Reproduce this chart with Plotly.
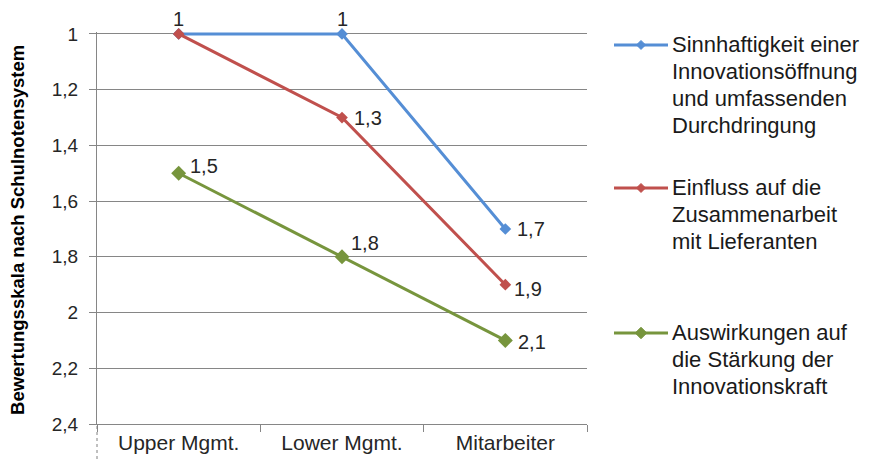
import plotly.graph_objects as go

# ---------------- data ----------------
categories = ["Upper Mgmt.", "Lower Mgmt.", "Mitarbeiter"]
series_names = [
    ["Sinnhaftigkeit einer", "Innovationsöffnung", "und umfassenden", "Durchdringung"],
    ["Einfluss auf die", "Zusammenarbeit", "mit Lieferanten"],
    ["Auswirkungen auf", "die Stärkung der", "Innovationskraft"],
]
sinnhaftigkeit = [1.0, 1.0, 1.7]
einfluss = [1.0, 1.3, 1.9]
auswirkungen = [1.5, 1.8, 2.1]
y_tick_values = [1.0, 1.2, 1.4, 1.6, 1.8, 2.0, 2.2, 2.4]
y_title = "Bewertungsskala nach Schulnotensystem"

series_values = [sinnhaftigkeit, einfluss, auswirkungen]

# ---------------- style ----------------
colors = ["#558ED5", "#C0504D", "#77953D"]
marker_sizes = [9, 9, 11.5]
# data-label placement per point: (xanchor, xshift, yshift)
label_places = [
    [("center", 0, 15), ("center", 0, 15), ("left", 10, 0)],
    [("center", 0, 15), ("left", 10, 0), ("left", 7, -4)],
    [("left", 9, 7), ("left", 7, 14), ("left", 11, -2)],
]
FONT = "Liberation Sans, Arial, sans-serif"
OFF = 8                 # default page body margin in the browser
W, H = 878 - OFF, 461 - OFF
# target plot area in screen pixels
SL, SR, ST, SB = 97, 587, 34, 424
Y_MIN, Y_MAX = 1.0, 2.4
Y_TOP = 0.993           # a hair above 1 so the line at 1 is not clipped
px_per_unit = (SB - ST) / (Y_MAX - Y_MIN)
ST_eff = ST - (Y_MIN - Y_TOP) * px_per_unit

L = SL - OFF
R = SR - OFF
T = ST_eff - OFF
B = SB - OFF


def fmt(v):
    return ("%g" % v).replace(".", ",")


def px_x(sx):
    return (sx - SL) / (SR - SL)


def px_y(sy):
    return (SB - sy) / (SB - ST_eff)


fig = go.Figure()
annotations = []
shapes = []

for i, (vals, names) in enumerate(zip(series_values, series_names)):
    fig.add_trace(go.Scatter(
        x=categories, y=vals, mode="lines+markers",
        name=" ".join(names),
        line=dict(color=colors[i], width=3),
        marker=dict(symbol="diamond", size=marker_sizes[i], color=colors[i]),
        cliponaxis=False, showlegend=False,
    ))
    for j, v in enumerate(vals):
        # skip a label that is covered by a later series with the same value
        if any(series_values[k][j] == v for k in range(i + 1, len(series_values))):
            continue
        xa, xs, ys = label_places[i][j]
        annotations.append(dict(
            x=categories[j], y=v, xref="x", yref="y", text=fmt(v),
            showarrow=False, xanchor=xa, yanchor="middle",
            xshift=xs, yshift=ys,
            font=dict(family=FONT, size=20, color="#262626")))

# manual legend
legend_rows = [45, 188, 333]
line_gap = 27
for i, names in enumerate(series_names):
    yc = legend_rows[i]
    shapes.append(dict(type="line", xref="paper", yref="paper",
                       x0=px_x(614), x1=px_x(668), y0=px_y(yc), y1=px_y(yc),
                       line=dict(color=colors[i], width=3)))
    s = marker_sizes[i] * 0.5
    cx, cy = 641, yc
    path = "M {} {} L {} {} L {} {} L {} {} Z".format(
        px_x(cx - s), px_y(cy), px_x(cx), px_y(cy - s),
        px_x(cx + s), px_y(cy), px_x(cx), px_y(cy + s))
    shapes.append(dict(type="path", xref="paper", yref="paper", path=path,
                       fillcolor=colors[i], line=dict(color=colors[i], width=1)))
    for k, line in enumerate(names):
        annotations.append(dict(
            text=line, xref="paper", yref="paper",
            x=px_x(670), y=px_y(yc + k * line_gap),
            xanchor="left", yanchor="middle", showarrow=False,
            font=dict(family=FONT, size=22, color="#1a1a1a")))

# y-axis title
annotations.append(dict(
    text="<b>" + y_title + "</b>", xref="paper", yref="paper",
    x=px_x(18), y=px_y(230), textangle=-90, xanchor="center", yanchor="middle",
    showarrow=False, font=dict(family=FONT, size=18.5, color="#000000")))

# dotted edge line below the axis origin
shapes.append(dict(type="line", xref="paper", yref="paper",
                   x0=0, x1=0, y0=px_y(426), y1=px_y(470),
                   line=dict(color="#808080", width=1, dash="dot")))

fig.update_layout(
    width=W, height=H,
    margin=dict(l=L, r=W - R, t=T, b=H - B, pad=0, autoexpand=False),
    paper_bgcolor="white", plot_bgcolor="white",
    separators=",.",
    font=dict(family=FONT, size=20, color="#262626"),
    shapes=shapes, annotations=annotations,
    xaxis=dict(
        type="category", range=[-0.5, 2.5], tickson="boundaries",
        ticks="outside", ticklen=7, tickcolor="#868686",
        showline=True, linecolor="#868686", linewidth=1,
        showgrid=False, zeroline=False, automargin=False,
        tickfont=dict(family=FONT, size=21, color="#262626"),
    ),
    yaxis=dict(
        range=[Y_MAX, Y_TOP], tickvals=y_tick_values,
        ticktext=[fmt(v) for v in y_tick_values],
        ticks="outside", ticklen=7, tickcolor="#868686",
        showline=True, linecolor="#868686", linewidth=1,
        showgrid=True, gridcolor="#868686", gridwidth=1, zeroline=False,
        automargin=False, ticklabelstandoff=7,
        tickfont=dict(family=FONT, size=19, color="#262626"),
    ),
)

fig.write_html("out.html")
